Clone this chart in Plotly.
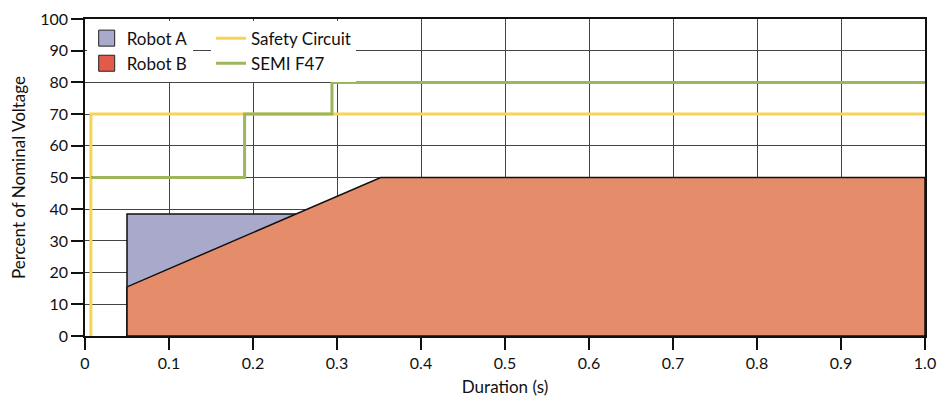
import plotly.graph_objects as go

# ---- data ----
robot_a_x = [0.05, 0.05, 0.255, 0.255, 0.05]
robot_a_y = [0, 38.5, 38.5, 0, 0]

robot_b_x = [0.05, 0.05, 0.352, 1.0, 1.0, 0.05]
robot_b_y = [0, 15.5, 50, 50, 0, 0]

safety_x = [0.007, 0.007, 1.0]
safety_y = [0, 70, 70]

semi_x = [0.007, 0.19, 0.19, 0.294, 0.294, 1.0]
semi_y = [50, 50, 70, 70, 80, 80]

x_ticks = [0, 0.1, 0.2, 0.3, 0.4, 0.5, 0.6, 0.7, 0.8, 0.9, 1.0]
x_tick_labels = ["0", "0.1", "0.2", "0.3", "0.4", "0.5", "0.6", "0.7", "0.8", "0.9", "1.0"]
y_ticks = [0, 10, 20, 30, 40, 50, 60, 70, 80, 90, 100]

FONT = "Lato, Open Sans, sans-serif"
C_A = "#A9AACB"
C_B = "#E58D6B"
C_B_LEG = "#E25A4A"
C_Y = "#F6D454"
C_G = "#9DB65C"

fig = go.Figure()

fig.add_trace(go.Scatter(x=robot_a_x, y=robot_a_y, mode="lines", fill="toself",
                         fillcolor=C_A, line=dict(color="#111", width=1.5),
                         showlegend=False, hoverinfo="skip"))
fig.add_trace(go.Scatter(x=robot_b_x, y=robot_b_y, mode="lines", fill="toself",
                         fillcolor=C_B, line=dict(color="#111", width=1.5),
                         showlegend=False, hoverinfo="skip"))
fig.add_trace(go.Scatter(x=safety_x, y=safety_y, mode="lines",
                         line=dict(color=C_Y, width=3), showlegend=False))
fig.add_trace(go.Scatter(x=semi_x, y=semi_y, mode="lines",
                         line=dict(color=C_G, width=3), showlegend=False))

# legend entries
fig.add_trace(go.Scatter(x=[None], y=[None], mode="markers", name="Robot A",
                         marker=dict(symbol="square", size=18, color=C_A,
                                     line=dict(color="#222", width=1)),
                         legend="legend"))
fig.add_trace(go.Scatter(x=[None], y=[None], mode="markers", name="Robot B",
                         marker=dict(symbol="square", size=18, color=C_B_LEG,
                                     line=dict(color="#222", width=1)),
                         legend="legend"))
fig.add_trace(go.Scatter(x=[None], y=[None], mode="lines", name="Safety Circuit",
                         line=dict(color=C_Y, width=3), legend="legend2"))
fig.add_trace(go.Scatter(x=[None], y=[None], mode="lines", name="SEMI F47",
                         line=dict(color=C_G, width=3), legend="legend2"))

axis_common = dict(showline=True, linecolor="#111", linewidth=1.5, mirror=True,
                   showgrid=True, gridcolor="#444", gridwidth=1,
                   ticks="outside", ticklen=12, tickcolor="#111", tickwidth=1.5,
                   zeroline=False, automargin=False, ticklabeloverflow="allow",
                   tickfont=dict(family=FONT, size=16, color="#111"))

fig.update_layout(
    width=940, height=396,
    margin=dict(l=77, r=23, t=11, b=68),
    paper_bgcolor="white", plot_bgcolor="white",
    font=dict(family=FONT, size=18, color="#111"),
    xaxis=dict(range=[0, 1], tickvals=x_ticks, ticktext=x_tick_labels,
               title=dict(text="Duration (s)", font=dict(family=FONT, size=17), standoff=10),
               **axis_common),
    yaxis=dict(range=[0, 100], tickvals=y_ticks,
               title=dict(text="Percent of Nominal Voltage", font=dict(family=FONT, size=17), standoff=12),
               **axis_common),
    legend=dict(x=0.002, y=0.995, xanchor="left", yanchor="top", bgcolor="white",
                font=dict(family=FONT, size=17), tracegroupgap=0, itemwidth=30),
    legend2=dict(x=0.15, y=0.995, xanchor="left", yanchor="top", bgcolor="white",
                 font=dict(family=FONT, size=17), itemwidth=30),
)

fig.write_html("out.html")
